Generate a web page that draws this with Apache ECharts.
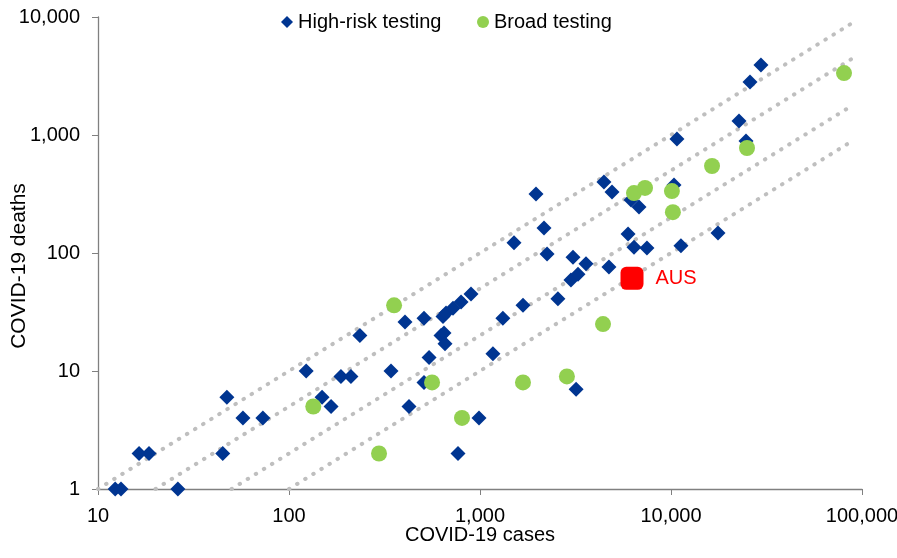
<!DOCTYPE html>
<html>
<head>
<meta charset="utf-8">
<script src="https://cdn.jsdelivr.net/npm/echarts@6/dist/echarts.min.js"></script>
<style>html,body{margin:0;padding:0;background:#fff}#c{width:897px;height:558px}</style>
</head>
<body>
<div id="c"></div>
<script>
// High-risk testing: [cases, deaths]
const highRiskCases = [12.3,13.2,16.4,18.5,26.2,45,47.3,57.4,73,123,149,166,187,211,235,342,405,425,509,509,541,625,640,648,656,664,722,767,796,897,988,1169,1318,1507,1679,1964,2163,2244,2558,2993,3069,3185,3260,3590,4457,4733,4909,5960,6180,6400,6800,7480,10370,10740,11270,17620,22700,24700,25920,29580];
const highRiskDeaths = [1,1,2,2,1,2,6,4,4,10,6,5,9,9,20,10,26,5,28,8,13,20,29,21,17,31,34,2,38.5,45,4,14,28,122,36,316,163,98,41,59,92,7,66,81,400,76,329,145,281,112,245,110,377,925,115,148,1315,890,2813,3920];
// Broad testing
const broadCases = [134,296,355,561,805,1679,2851,4406,6400,7310,10110,10230,16400,25000,80500];
const broadDeaths = [5,2,36,8,4,8,9,25,322,356,335,222,546,776,3350];
// Australia
const ausCases = [6250];
const ausDeaths = [61];
// Reference lines: case fatality ratios
const ratios = [0.1, 0.05, 0.02, 0.01];
const lineEndCases = 88000;
const xTicks = [10, 100, 1000, 10000, 100000];
const yTicks = [1, 10, 100, 1000, 10000];

const zip = (a, b) => a.map((v, i) => [v, b[i]]);
const fmt = v => Math.round(v).toLocaleString('en-US');
const FONT = 'Liberation Sans, Arial, sans-serif';

const refSeries = ratios.map(r => ({
  type: 'line',
  data: [[1 / r, 1], [lineEndCases, lineEndCases * r]],
  symbol: 'none',
  silent: true,
  z: 1,
  lineStyle: { color: '#BFBFBF', width: 4, type: [0.5, 9], cap: 'round' }
}));

const legendBase = {
  top: 12, padding: 0, itemWidth: 12, itemHeight: 12,
  textStyle: { fontSize: 20, color: '#000', fontFamily: FONT }
};

const chart = echarts.init(document.getElementById('c'), null, { renderer: 'canvas' });
chart.setOption({
  animation: false,
  textStyle: { fontFamily: FONT },
  grid: { left: 98, right: 35, top: 17, bottom: 69, containLabel: false, outerBoundsMode: 'none' },
  legend: [
    Object.assign({}, legendBase, { left: 281,
      data: [{ name: 'High-risk testing', icon: 'diamond', itemStyle: { color: '#003591', opacity: 1 } }] }),
    Object.assign({}, legendBase, { left: 477,
      data: [{ name: 'Broad testing', icon: 'circle', itemStyle: { color: '#92D050', opacity: 1 } }] })
  ],
  xAxis: {
    type: 'log', logBase: 10, min: xTicks[0], max: xTicks[xTicks.length - 1],
    name: 'COVID-19 cases', nameLocation: 'middle', nameGap: 36, nameMoveOverlap: false,
    nameTextStyle: { fontSize: 20, color: '#000' },
    axisLine: { lineStyle: { color: '#808080', width: 1.3 } },
    axisTick: { show: true, length: 6, inside: false, lineStyle: { color: '#808080' } },
    axisLabel: { fontSize: 20, color: '#000', margin: 17, formatter: fmt },
    splitLine: { show: false }, minorTick: { show: false }
  },
  yAxis: {
    type: 'log', logBase: 10, min: yTicks[0], max: yTicks[yTicks.length - 1],
    name: 'COVID-19 deaths', nameLocation: 'middle', nameGap: 68, nameRotate: 90, nameMoveOverlap: false,
    nameTextStyle: { fontSize: 21, color: '#000', padding: [0, 26, 0, 0] },
    axisLine: { show: true, lineStyle: { color: '#808080', width: 1.3 } },
    axisTick: { show: true, length: 6, inside: false, lineStyle: { color: '#808080' } },
    axisLabel: { fontSize: 20, color: '#000', margin: 18, formatter: fmt },
    splitLine: { show: false }
  },
  series: [
    ...refSeries,
    {
      name: 'High-risk testing', type: 'scatter', symbol: 'diamond', symbolSize: 15, z: 3,
      itemStyle: { color: '#003591', opacity: 1 },
      data: zip(highRiskCases, highRiskDeaths)
    },
    {
      name: 'Broad testing', type: 'scatter', symbol: 'circle', symbolSize: 16, z: 4,
      itemStyle: { color: '#92D050', opacity: 1 },
      data: zip(broadCases, broadDeaths)
    },
    {
      name: 'AUS', type: 'scatter', symbol: 'roundRect', symbolSize: 23, z: 5,
      itemStyle: { color: '#FF0000', opacity: 1 },
      label: { show: true, position: 'right', distance: 12, formatter: 'AUS', color: '#FF0000', fontSize: 20 },
      data: zip(ausCases, ausDeaths)
    }
  ]
});
</script>
</body>
</html>
